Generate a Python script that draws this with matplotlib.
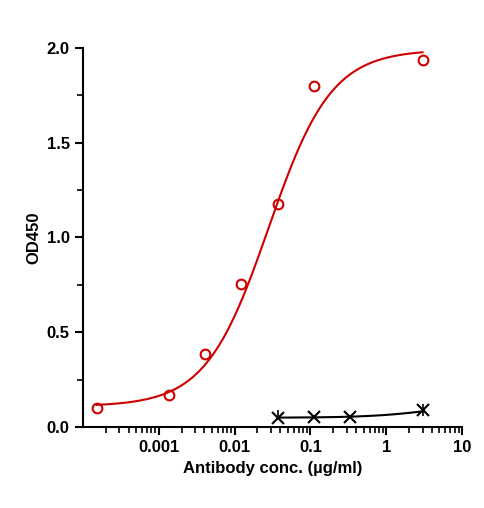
import numpy as np
import matplotlib.pyplot as plt
from matplotlib.ticker import LogLocator, NullFormatter, FixedLocator

plt.rcParams['font.family'] = ['Liberation Sans', 'DejaVu Sans']

# measured points
red_x = [0.000152, 0.00137, 0.0041, 0.0123, 0.037, 0.111, 3.0]
red_y = [0.10, 0.17, 0.385, 0.755, 1.175, 1.80, 1.935]
blk_x = [0.037, 0.111, 0.333, 3.0]
blk_y = [0.05, 0.055, 0.055, 0.09]
blk_err = [0.04, 0.0, 0.0, 0.03]

# 4PL fit parameters (bottom, top, ec50, hill)
red_fit = (0.11, 1.99, 0.028, 1.05)
blk_fit = (0.05, 0.14, 5.0, 1.0)


def fourpl(x, p):
    b, t, c, h = p
    return b + (t - b) / (1 + (c / x) ** h)


fig = plt.figure(figsize=(4.85, 5.08), dpi=100)
ax = fig.add_axes([0.171, 0.159, 0.782, 0.747])

xs = np.logspace(np.log10(red_x[0]), np.log10(red_x[-1]), 300)
ax.plot(xs, fourpl(xs, red_fit), color='#cc0000', lw=1.5)
ax.plot(red_x, red_y, 'o', mfc='none', mec='#cc0000', mew=1.5, ms=7)

xb = np.logspace(np.log10(blk_x[0]), np.log10(blk_x[-1]), 200)
ax.plot(xb, fourpl(xb, blk_fit), color='black', lw=1.5)
ax.errorbar(blk_x, blk_y, yerr=[[0]*4, blk_err], fmt='x', color='black',
            ms=8, mew=1.5, elinewidth=1.2, capsize=0)
ax.errorbar(blk_x[-1:], blk_y[-1:], yerr=[[0.03], [0]], fmt='none', color='black', elinewidth=1.2)

ax.set_xscale('log')
ax.set_xlim(1e-4, 10)
ax.set_ylim(0, 2.0)
ax.xaxis.set_major_locator(FixedLocator([0.001, 0.01, 0.1, 1, 10]))
ax.set_xticklabels(['0.001', '0.01', '0.1', '1', '10'])
ax.xaxis.set_minor_locator(LogLocator(subs=np.arange(2, 10), numticks=20))
ax.xaxis.set_minor_formatter(NullFormatter())
ax.set_yticks([0, 0.5, 1.0, 1.5, 2.0])
ax.set_yticks([0.25, 0.75, 1.25, 1.75], minor=True)
ax.set_yticklabels(['0.0', '0.5', '1.0', '1.5', '2.0'])
for s in ['top', 'right']:
    ax.spines[s].set_visible(False)
for s in ['left', 'bottom']:
    ax.spines[s].set_linewidth(1.5)
ax.tick_params(which='major', length=6, width=1.5, labelsize=12)
ax.tick_params(which='minor', length=4, width=1.2)
for lab in ax.get_xticklabels() + ax.get_yticklabels():
    lab.set_fontweight('bold')
ax.set_xlabel('Antibody conc. (\u00b5g/ml)', fontsize=12, fontweight='bold')
ax.set_ylabel('OD450', fontsize=12, fontweight='bold')
fig.savefig('out.png', dpi=100)
